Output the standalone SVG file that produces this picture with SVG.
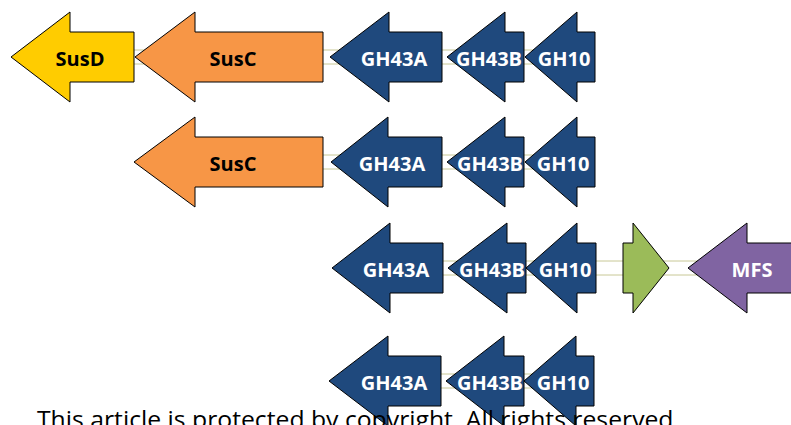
<svg xmlns="http://www.w3.org/2000/svg" width="791" height="425" viewBox="0 0 791 425">
<style>
.arr{stroke:#000;stroke-width:1;stroke-linejoin:miter}
.blue{fill:#1F497D}
.orange{fill:#F79646}
.yellow{fill:#FFCC00}
.green{fill:#9BBB59}
.purple{fill:#8064A2}
.lbl{font-family:"Open Sans","Noto Sans",sans-serif;font-weight:bold;font-size:20px;text-anchor:middle}
.w{fill:#fff}
.k{fill:#000}
.ln{stroke:#C8C896;stroke-width:1;fill:none}
</style>
<rect width="791" height="425" fill="#fff"/>
<g id="connectors">
<path class="ln" d="M70 50H595M70 64H595"/>
<path class="ln" d="M300 155H595M300 169H595"/>
<path class="ln" d="M420 261H720M420 275H720"/>
<path class="ln" d="M420 374H594M420 388H594"/>
</g>
<g id="r1-susd"><polygon class="arr yellow" points="11,57 70,12 70,32 134,32 134,82 70,82 70,102"/><text class="lbl k" x="80" y="66">SusD</text></g>
<g id="r1-susc"><polygon class="arr orange" points="135,57 195,12 195,32 323,32 323,82 195,82 195,102"/><text class="lbl k" x="233" y="66">SusC</text></g>
<g id="r1-gh43a"><polygon class="arr blue" points="330,57 389,12 389,32 442,32 442,82 389,82 389,102"/><text class="lbl w" x="394" y="66">GH43A</text></g>
<g id="r1-gh43b"><polygon class="arr blue" points="447,57 505,12 505,32 524,32 524,82 505,82 505,102"/><text class="lbl w" x="489" y="66">GH43B</text></g>
<g id="r1-gh10"><polygon class="arr blue" points="525,57 577,12 577,32 595,32 595,82 577,82 577,102"/><text class="lbl w" x="564" y="66">GH10</text></g>

<g id="r2-susc"><polygon class="arr orange" points="134,162 195,117 195,137 323,137 323,187 195,187 195,207"/><text class="lbl k" x="233" y="171">SusC</text></g>
<g id="r2-gh43a"><polygon class="arr blue" points="331,162 388,117 388,137 442,137 442,187 388,187 388,207"/><text class="lbl w" x="392" y="171">GH43A</text></g>
<g id="r2-gh43b"><polygon class="arr blue" points="447,162 505,117 505,137 524,137 524,187 505,187 505,207"/><text class="lbl w" x="490" y="171">GH43B</text></g>
<g id="r2-gh10"><polygon class="arr blue" points="525,162 577,117 577,137 595,137 595,187 577,187 577,207"/><text class="lbl w" x="563" y="171">GH10</text></g>

<g id="r3-gh43a"><polygon class="arr blue" points="332,268 390,223 390,243 443,243 443,293 390,293 390,313"/><text class="lbl w" x="396" y="277">GH43A</text></g>
<g id="r3-gh43b"><polygon class="arr blue" points="448,268 507,223 507,243 526,243 526,293 507,293 507,313"/><text class="lbl w" x="492" y="277">GH43B</text></g>
<g id="r3-gh10"><polygon class="arr blue" points="526,268 577,223 577,243 596,243 596,293 577,293 577,313"/><text class="lbl w" x="565" y="277">GH10</text></g>
<g id="r3-green"><polygon class="arr green" points="669,268 633,223 633,243 623,243 623,293 633,293 633,313"/></g>
<g id="r3-mfs"><polygon class="arr purple" points="688,268 747,223 747,243 800,243 800,293 747,293 747,313"/><text class="lbl w" x="752" y="277">MFS</text></g>

<g id="r4-gh43a"><polygon class="arr blue" points="329,381 388,336 388,356 441,356 441,406 388,406 388,426"/><text class="lbl w" x="394" y="390">GH43A</text></g>
<g id="r4-gh43b"><polygon class="arr blue" points="446,381 504,336 504,356 524,356 524,406 504,406 504,426"/><text class="lbl w" x="490" y="390">GH43B</text></g>
<g id="r4-gh10"><polygon class="arr blue" points="524,381 576,336 576,356 594,356 594,406 576,406 576,426"/><text class="lbl w" x="563" y="390">GH10</text></g>

<text x="37" y="428" font-family="'Open Sans','Noto Sans',sans-serif" font-size="24" fill="#000" textLength="643" lengthAdjust="spacingAndGlyphs">This article is protected by copyright. All rights reserved.</text>
</svg>
